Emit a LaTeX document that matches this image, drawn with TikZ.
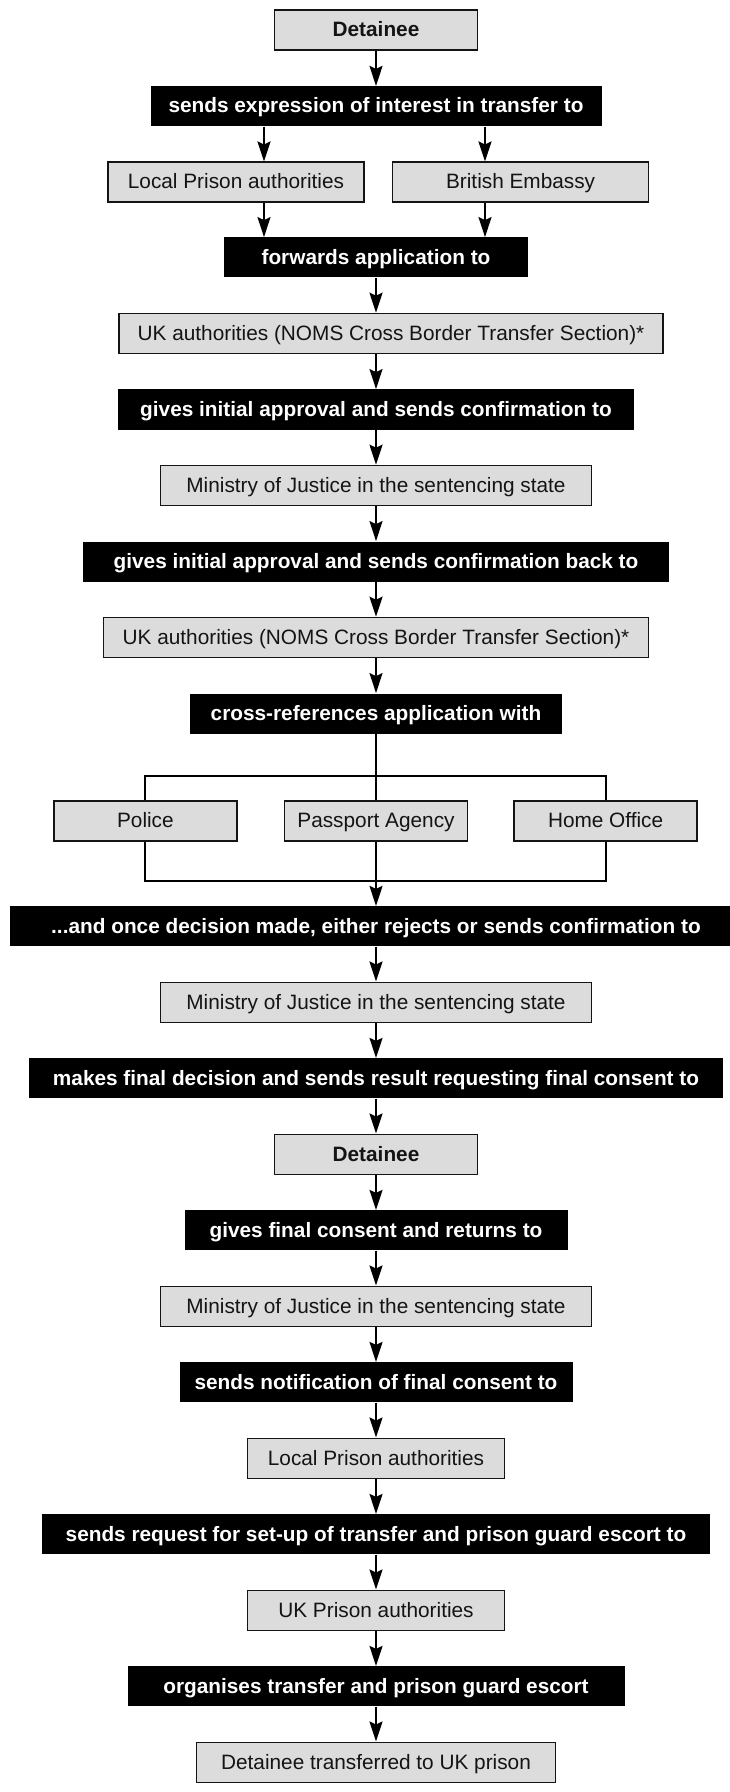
\documentclass[tikz,border=0pt]{standalone}
\usepackage{fontspec}
\setmainfont{Liberation Sans}
\usepackage{tikz}
\usetikzlibrary{arrows.meta,positioning}
\definecolor{Panel}{HTML}{DCDCDC}
\definecolor{Ink}{HTML}{141414}

\begin{document}
\fontsize{10.4}{12.5}\selectfont
\begin{tikzpicture}[x=0.5pt,y=0.5pt,node distance=17.4pt,
    party/.style={draw=Ink,line width=0.8pt,fill=Panel,text=Ink,minimum height=20pt,inner xsep=2pt,text height=7.5pt,text depth=0.8pt},
    act/.style={fill=black,text=white,font=\bfseries,minimum height=20pt,inner xsep=2pt,text height=7.5pt,text depth=0.8pt},
    flow/.style={line width=1pt,-{Stealth[length=10pt,width=6.5pt,inset=1.5pt]}},
    link/.style={line width=1pt}]
  \useasboundingbox (0,0) rectangle (729,-1792);
  \node[party,font=\bfseries,minimum width=101.5pt] (det) at (376,-30.3) {Detainee};
  \node[act,minimum width=225.5pt,below=of det] (sendsto) {sends expression of interest in transfer to};
  \node[party,minimum width=128pt,below=of sendsto,xshift=-70pt] (local) {Local Prison authorities};
  \node[party,minimum width=128pt,right=13.5pt of local] (embassy) {British Embassy};
  \node[act,minimum width=152pt,below=55.2pt of sendsto] (forwards) {forwards application to};
  \node[party,minimum width=272pt,below=of forwards,xshift=7.5pt] (uka) {UK authorities (NOMS Cross Border Transfer Section)*};
  \node[act,minimum width=258pt,below=of uka,xshift=-7.5pt] (approve) {gives initial approval and sends confirmation to};
  \node[party,minimum width=215.5pt,below=of approve] (moja) {Ministry of Justice in the sentencing state};
  \node[act,minimum width=293pt,below=of moja] (approveback) {gives initial approval and sends confirmation back to};
  \node[party,minimum width=272.5pt,below=of approveback] (ukb) {UK authorities (NOMS Cross Border Transfer Section)*};
  \node[act,minimum width=186pt,below=of ukb] (crossref) {cross-references application with};
  \node[party,minimum width=91.5pt,below=33pt of crossref] (passport) {Passport Agency};
  \node[party,minimum width=91.5pt,left=23pt of passport] (police) {Police};
  \node[party,minimum width=91.5pt,right=22.5pt of passport] (homeoffice) {Home Office};
  \node[act,minimum width=366pt,below=32.2pt of passport] (decision) {...and once decision made, either rejects or sends confirmation to};
  \node[party,minimum width=215.5pt,below=of decision] (mojb) {Ministry of Justice in the sentencing state};
  \node[act,minimum width=347pt,below=of mojb] (finaldec) {makes final decision and sends result requesting final consent to};
  \node[party,font=\bfseries,minimum width=101.5pt,below=of finaldec] (detb) {Detainee};
  \node[act,minimum width=191.5pt,below=of detb] (consent) {gives final consent and returns to};
  \node[party,minimum width=215.5pt,below=of consent] (mojc) {Ministry of Justice in the sentencing state};
  \node[act,minimum width=196.5pt,below=of mojc] (notify) {sends notification of final consent to};
  \node[party,minimum width=128.5pt,below=of notify] (localb) {Local Prison authorities};
  \node[act,minimum width=334pt,below=of localb] (request) {sends request for set-up of transfer and prison guard escort to};
  \node[party,minimum width=128.5pt,below=of request] (ukprison) {UK Prison authorities};
  \node[act,minimum width=248.5pt,below=of ukprison] (organise) {organises transfer and prison guard escort};
  \node[party,minimum width=179.5pt,below=of organise] (transferred) {Detainee transferred to UK prison};

  \coordinate (lx) at ([xshift=-56pt]sendsto.south);
  \coordinate (ex) at ([xshift=54.5pt]sendsto.south);
  \coordinate[below=21pt of crossref] (fork);
  \coordinate[below=19.5pt of passport] (join);

  \draw[flow] (det) -- (sendsto);
  \draw[flow] (lx) -- (lx |- local.north);
  \draw[flow] (ex) -- (ex |- embassy.north);
  \draw[flow] (lx |- local.south) -- (lx |- forwards.north);
  \draw[flow] (ex |- embassy.south) -- (ex |- forwards.north);
  \draw[flow] (forwards) -- (forwards |- uka.north);
  \draw[flow] (uka.south -| approve) -- (approve);
  \draw[flow] (approve) -- (moja);
  \draw[flow] (moja) -- (approveback);
  \draw[flow] (approveback) -- (ukb);
  \draw[flow] (ukb) -- (crossref);
  \draw[link] (crossref) -- (passport);
  \draw[link] (police.north) |- (fork) -| (homeoffice.north);
  \draw[link] (police.south) |- (join) -| (homeoffice.south);
  \draw[flow] (passport) -- (decision);
  \draw[flow] (decision) -- (mojb);
  \draw[flow] (mojb) -- (finaldec);
  \draw[flow] (finaldec) -- (detb);
  \draw[flow] (detb) -- (consent);
  \draw[flow] (consent) -- (mojc);
  \draw[flow] (mojc) -- (notify);
  \draw[flow] (notify) -- (localb);
  \draw[flow] (localb) -- (request);
  \draw[flow] (request) -- (ukprison);
  \draw[flow] (ukprison) -- (organise);
  \draw[flow] (organise) -- (transferred);
\end{tikzpicture}
\end{document}
